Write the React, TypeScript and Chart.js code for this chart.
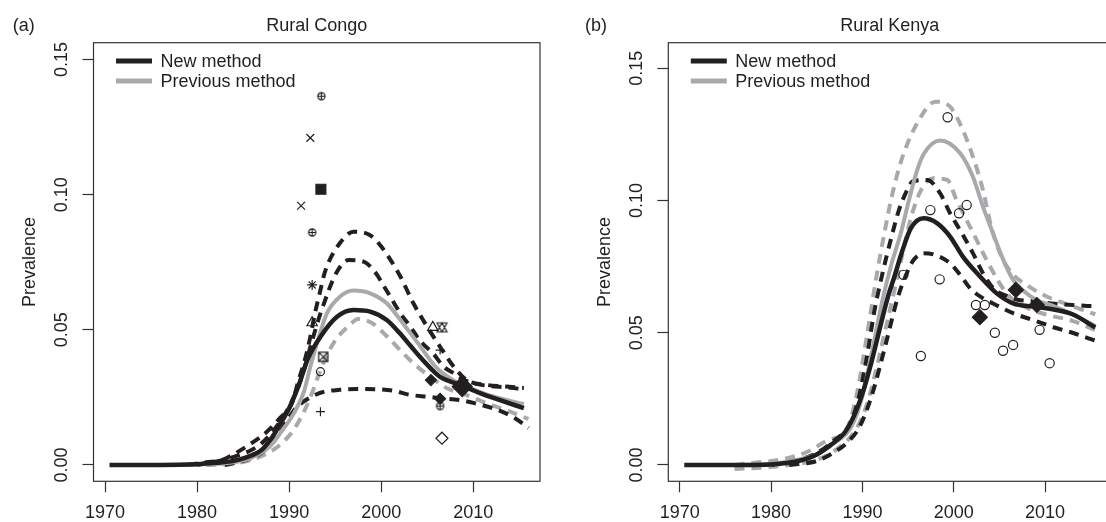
import React, { useEffect, useRef } from "react";
import { Chart, registerables } from "chart.js";

Chart.register(...registerables);

const FONT = "'Liberation Sans', Arial, Helvetica, sans-serif";
const INK = "#231f20";
const AXIS = "#333333";
const GRAY = "#a7a9ac";

// ---- axes ----
const xTicks = [1970, 1980, 1990, 2000, 2010];
const yTicks = [0, 0.05, 0.1, 0.15];

// ---- Rural Congo curves ----
const congoNewX = [1970.5, 1976, 1980, 1982, 1984, 1985.5, 1987, 1988, 1989, 1990, 1991, 1992, 1993.4, 1995.2, 1997, 1998.8, 2000.6, 2002, 2003.2, 2004.2, 2005.3, 2006.4, 2008.6, 2010.8, 2012.9, 2015.5];
const congoNewY = [0, 0, 0.0003, 0.0008, 0.0015, 0.003, 0.0055, 0.0095, 0.015, 0.021, 0.029, 0.039, 0.0474, 0.0548, 0.0573, 0.0567, 0.0536, 0.0488, 0.044, 0.04, 0.036, 0.0326, 0.0296, 0.0265, 0.024, 0.021];

const congoPrevX = [1970.5, 1980, 1984, 1986, 1988, 1989.4, 1990.5, 1991.6, 1992.3, 1993.2, 1994.1, 1995.5, 1997, 1998.8, 2000.6, 2002, 2004, 2006, 2008, 2010, 2012, 2015.5];
const congoPrevY = [0, 0.0002, 0.001, 0.0028, 0.0072, 0.0135, 0.019, 0.027, 0.0363, 0.047, 0.0561, 0.0622, 0.0645, 0.0635, 0.0598, 0.054, 0.045, 0.036, 0.031, 0.028, 0.0255, 0.0225];

const congoUpperX = [1979, 1981, 1982.6, 1984, 1985.8, 1987.5, 1988.9, 1990.3, 1991, 1991.8, 1992.3, 1992.8, 1993.4, 1993.9, 1995.5, 1997, 1998.8, 1999.9, 2000.8, 2002.1, 2003.5, 2005, 2006.4, 2007.9, 2009.3, 2011.5, 2013.6, 2015.5];
const congoUpperY = [0, 0.001, 0.0017, 0.004, 0.0078, 0.012, 0.017, 0.0228, 0.031, 0.04, 0.0474, 0.056, 0.0647, 0.0715, 0.082, 0.0863, 0.085, 0.0813, 0.077, 0.0696, 0.0598, 0.0511, 0.0437, 0.0363, 0.0314, 0.0296, 0.029, 0.0285];

const congoMidX = [1980, 1984, 1987, 1989, 1990.5, 1991.5, 1992.5, 1993.5, 1995.2, 1996.5, 1998.1, 1999.3, 2000.5, 2002.1, 2003.2, 2004.2, 2005.7, 2006.8, 2007.9, 2009.3, 2011.5, 2013.6, 2015.5];
const congoMidY = [0, 0.003, 0.008, 0.016, 0.025, 0.034, 0.046, 0.057, 0.0715, 0.0758, 0.0752, 0.0715, 0.065, 0.056, 0.051, 0.046, 0.041, 0.0363, 0.0339, 0.031, 0.0293, 0.0287, 0.028];

const congoLowX = [1983, 1985, 1987, 1988.5, 1989.7, 1990.6, 1991.6, 1993.5, 1995.5, 1997.4, 1999.5, 2001.3, 2003, 2005.2, 2006.4, 2008.6, 2010.2, 2012.2, 2014.4, 2016];
const congoLowY = [0, 0.0015, 0.0045, 0.0095, 0.016, 0.0205, 0.0235, 0.0268, 0.0278, 0.0281, 0.028, 0.0275, 0.026, 0.0252, 0.0247, 0.024, 0.0228, 0.0209, 0.0176, 0.0137];

const congoPrevLowX = [1981, 1984, 1986, 1988, 1989.3, 1990.5, 1991.5, 1992.3, 1993.7, 1995, 1996.5, 1997.5, 1999, 2000.5, 2002.4, 2003.5, 2005.3, 2007.1, 2009.3, 2011.5, 2014, 2016];
const congoPrevLowY = [0, 0.0005, 0.002, 0.005, 0.0083, 0.013, 0.019, 0.025, 0.0376, 0.046, 0.0515, 0.054, 0.0525, 0.048, 0.0413, 0.0376, 0.0327, 0.0285, 0.0258, 0.0228, 0.0197, 0.017];

// ---- Rural Congo survey points ----
const congoCirclePlusX = [1993.5, 1992.5, 2006.4];
const congoCirclePlusY = [0.1364, 0.086, 0.0218];
const congoTimesX = [1992.3, 1991.3];
const congoTimesY = [0.121, 0.0959];
const congoSquareX = [1993.45];
const congoSquareY = [0.102];
const congoAsteriskX = [1992.5];
const congoAsteriskY = [0.0666];
const congoTriangleX = [1992.5, 2005.6];
const congoTriangleY = [0.0526, 0.0509];
const congoTriDownX = [2006.6];
const congoTriDownY = [0.0509];
const congoSquareXX = [1993.7];
const congoSquareXY = [0.04];
const congoCircleX = [1993.4];
const congoCircleY = [0.0345];
const congoPlusX = [1993.4, 2006.4];
const congoPlusY = [0.0197, 0.0425];
const congoSmallDiamondX = [2005.4, 2006.4];
const congoSmallDiamondY = [0.0314, 0.0245];
const congoBigDiamondX = [2008.8];
const congoBigDiamondY = [0.029];
const congoOpenDiamondX = [2006.6];
const congoOpenDiamondY = [0.0099];

// ---- Rural Kenya curves ----
const kenyaNewX = [1970.5, 1978, 1981, 1983, 1985, 1986.5, 1988, 1989, 1990, 1991, 1992, 1992.8, 1993.5, 1994.4, 1995.3, 1996.7, 1998.2, 1999.6, 2001, 2002.9, 2004.7, 2006.5, 2008.7, 2010.1, 2013, 2015.5];
const kenyaNewY = [0, 0, 0.0005, 0.0015, 0.004, 0.0075, 0.012, 0.018, 0.027, 0.039, 0.053, 0.0637, 0.0712, 0.0813, 0.0895, 0.0933, 0.0914, 0.0864, 0.0788, 0.0712, 0.0649, 0.0611, 0.0599, 0.0593, 0.057, 0.052];

const kenyaPrevX = [1976, 1980, 1983, 1985, 1987, 1988.8, 1990, 1991, 1992.2, 1993.1, 1994.2, 1995.1, 1996, 1996.7, 1998.5, 2000.7, 2002.1, 2003.2, 2004.3, 2005.5, 2006.5, 2007.6, 2009, 2011, 2013, 2015.5];
const kenyaPrevY = [0, 0.0005, 0.002, 0.004, 0.0085, 0.0145, 0.026, 0.042, 0.0624, 0.075, 0.0876, 0.1002, 0.1115, 0.1175, 0.1227, 0.1179, 0.109, 0.0977, 0.0876, 0.077, 0.07, 0.066, 0.0625, 0.06, 0.057, 0.0525];

const kenyaUpperX = [1980, 1983, 1985, 1987, 1988.5, 1989.5, 1990.5, 1991.3, 1992.2, 1993.1, 1994, 1994.9, 1995.5, 1997.1, 1998.5, 1999.6, 2000.9, 2002.1, 2003.2, 2004.5, 2005.8, 2007, 2008.7, 2011, 2013, 2015.5];
const kenyaUpperY = [0, 0.002, 0.0045, 0.0095, 0.0145, 0.024, 0.041, 0.058, 0.0725, 0.0851, 0.0964, 0.104, 0.1072, 0.1078, 0.1028, 0.0952, 0.0876, 0.0801, 0.0725, 0.0662, 0.064, 0.0625, 0.062, 0.061, 0.0605, 0.06];

const kenyaLowX = [1982, 1985, 1987, 1988.5, 1989.7, 1991, 1992.5, 1993.8, 1994.7, 1995.6, 1996.7, 1998, 1999.6, 2000.7, 2001.8, 2003, 2004.3, 2006.5, 2008.7, 2011, 2013, 2015.5];
const kenyaLowY = [0, 0.0015, 0.005, 0.009, 0.0145, 0.026, 0.045, 0.0625, 0.0712, 0.0775, 0.0801, 0.0794, 0.0763, 0.0719, 0.0668, 0.0635, 0.0611, 0.0574, 0.0548, 0.052, 0.05, 0.047];

const kenyaPrevUpperX = [1976, 1978, 1981, 1984, 1986, 1988.4, 1989.4, 1990.5, 1991.5, 1992.4, 1993.3, 1994.4, 1996.2, 1998, 1999.6, 2001, 2002.1, 2003.2, 2004.1, 2005.2, 2006.5, 2008, 2010, 2013, 2015.5];
const kenyaPrevUpperY = [0, 0.0008, 0.002, 0.005, 0.009, 0.0145, 0.027, 0.049, 0.0705, 0.0876, 0.1028, 0.1166, 0.1305, 0.1374, 0.1355, 0.1267, 0.1166, 0.104, 0.0901, 0.079, 0.072, 0.068, 0.064, 0.06, 0.057];

const kenyaPrevLowX = [1976, 1979, 1982, 1985, 1987, 1989.3, 1990.5, 1991.5, 1992.5, 1993.5, 1994.4, 1995.4, 1996.5, 1997.8, 1999.3, 2000.3, 2001.4, 2002.5, 2003.6, 2004.8, 2006, 2008, 2010, 2013, 2015.5];
const kenyaPrevLowY = [-0.0015, -0.001, 0, 0.002, 0.0055, 0.0135, 0.023, 0.036, 0.051, 0.066, 0.08, 0.0945, 0.1045, 0.1084, 0.1078, 0.1002, 0.0927, 0.0851, 0.0775, 0.07, 0.064, 0.0595, 0.057, 0.0545, 0.051];

// ---- Rural Kenya survey points ----
const kenyaCircleX = [1999.33, 1997.44, 2000.58, 2001.42, 1994.49, 1998.46, 2002.43, 2003.4, 2004.5, 2006.5, 2005.4, 2009.4, 2010.5, 1996.4];
const kenyaCircleY = [0.1315, 0.0964, 0.0952, 0.0983, 0.0719, 0.0702, 0.0605, 0.0605, 0.05, 0.0454, 0.0432, 0.0511, 0.0385, 0.0412];
const kenyaDiamondX = [2002.86, 2006.8, 2009.1];
const kenyaDiamondY = [0.0559, 0.0662, 0.0605];

const legendLabels = ["New method", "Previous method"];

const X_MIN = 1968.75;
const X_MAX = 2017.25;

function pts(xs: number[], ys: number[]) {
  return xs.map((x, i) => ({ x, y: ys[i] }));
}

function makeMarker(size: number, draw: (ctx: CanvasRenderingContext2D, c: number) => void) {
  const cv = document.createElement("canvas");
  cv.width = size;
  cv.height = size;
  const ctx = cv.getContext("2d")!;
  ctx.strokeStyle = INK;
  ctx.fillStyle = INK;
  ctx.lineWidth = 1.2;
  draw(ctx, size / 2);
  return cv;
}

function curve(xs: number[], ys: number[], color: string, dashed: boolean, width: number) {
  return {
    type: "line" as const,
    data: pts(xs, ys),
    borderColor: color,
    borderWidth: width,
    borderDash: dashed ? [10, 7] : [],
    borderCapStyle: "butt" as const,
    pointRadius: 0,
    fill: false,
    showLine: true,
    cubicInterpolationMode: "monotone" as const,
  };
}

function marker(xs: number[], ys: number[], style: any, radius: number, filled: boolean, rotation = 0) {
  return {
    type: "scatter" as const,
    data: pts(xs, ys),
    showLine: false,
    pointStyle: style,
    pointRadius: radius,
    pointRotation: rotation,
    pointBorderWidth: 1.2,
    pointBorderColor: INK,
    pointBackgroundColor: filled ? INK : "rgba(0,0,0,0)",
  };
}

const decorPlugin = {
  id: "panelDecor",
  afterDraw(chart: any, _args: any, opts: any) {
    const { ctx, chartArea: a } = chart;
    ctx.save();
    ctx.strokeStyle = AXIS;
    ctx.lineWidth = 1.2;
    ctx.setLineDash([]);
    ctx.strokeRect(a.left, a.top, a.right - a.left, a.bottom - a.top);

    ctx.fillStyle = INK;
    ctx.font = `18px ${FONT}`;
    ctx.textBaseline = "alphabetic";
    ctx.textAlign = "left";
    ctx.fillText(opts.label, opts.labelX, 31);
    ctx.textAlign = "center";
    ctx.fillText(opts.title, (a.left + a.right) / 2, 31);

    ctx.save();
    ctx.translate(a.left - 63.5, (a.top + a.bottom) / 2);
    ctx.rotate(-Math.PI / 2);
    ctx.textAlign = "center";
    ctx.textBaseline = "middle";
    ctx.fillText("Prevalence", 0, 0);
    ctx.restore();

    const colors = [INK, GRAY];
    legendLabels.forEach((lab, i) => {
      const y = a.top + 18.3 + i * 20;
      ctx.strokeStyle = colors[i];
      ctx.lineWidth = 5;
      ctx.beginPath();
      ctx.moveTo(a.left + 22.5, y);
      ctx.lineTo(a.left + 58.5, y);
      ctx.stroke();
      ctx.fillStyle = INK;
      ctx.textAlign = "left";
      ctx.textBaseline = "alphabetic";
      ctx.fillText(lab, a.left + 67, y + 5.5);
    });
    ctx.restore();
  },
};

function makeOptions(yMin: number, yMax: number, yAxisWidth: number, padRight: number, deco: any) {
  return {
    responsive: false,
    animation: false as const,
    events: [],
    layout: { padding: { top: 42.7, right: padRight, bottom: 0, left: 0 } },
    plugins: {
      legend: { display: false },
      tooltip: { enabled: false },
      title: { display: false },
      panelDecor: deco,
    },
    scales: {
      x: {
        type: "linear" as const,
        min: X_MIN,
        max: X_MAX,
        afterBuildTicks: (s: any) => {
          s.ticks = xTicks.map((v) => ({ value: v }));
        },
        afterFit: (s: any) => {
          s.height = 40.7;
        },
        ticks: {
          color: INK,
          font: { family: FONT, size: 18 },
          padding: 10,
          maxRotation: 0,
          autoSkip: false,
          callback: (v: any) => String(v),
        },
        grid: { display: true, drawOnChartArea: false, drawTicks: true, tickLength: 11, tickWidth: 1.2, tickColor: AXIS, color: AXIS },
        border: { display: false },
      },
      y: {
        type: "linear" as const,
        min: yMin,
        max: yMax,
        afterBuildTicks: (s: any) => {
          s.ticks = yTicks.map((v) => ({ value: v }));
        },
        afterFit: (s: any) => {
          s.width = yAxisWidth;
        },
        ticks: {
          color: INK,
          font: { family: FONT, size: 18 },
          padding: 3,
          minRotation: 90,
          maxRotation: 90,
          crossAlign: "center" as const,
          autoSkip: false,
          callback: (v: any) => Number(v).toFixed(2),
        },
        grid: { display: true, drawOnChartArea: false, drawTicks: true, tickLength: 11, tickWidth: 1.2, tickColor: AXIS, color: AXIS },
        border: { display: false },
      },
    },
  };
}

function Panel(props: { left: number; width: number; build: () => any }) {
  const ref = useRef<HTMLCanvasElement>(null);
  useEffect(() => {
    const chart = new Chart(ref.current!, props.build());
    return () => chart.destroy();
  }, []);
  return (
    <canvas
      ref={ref}
      width={props.width}
      height={522}
      style={{ position: "absolute", left: props.left, top: 0, width: props.width, height: 522 }}
    />
  );
}

function buildCongo() {
  const circlePlus = makeMarker(11, (ctx, c) => {
    ctx.beginPath();
    ctx.arc(c, c, 3.6, 0, Math.PI * 2);
    ctx.moveTo(c - 3.6, c);
    ctx.lineTo(c + 3.6, c);
    ctx.moveTo(c, c - 3.6);
    ctx.lineTo(c, c + 3.6);
    ctx.stroke();
  });
  const squareX = makeMarker(13, (ctx, c) => {
    const h = 4.6;
    ctx.beginPath();
    ctx.rect(c - h, c - h, 2 * h, 2 * h);
    ctx.moveTo(c - h, c - h);
    ctx.lineTo(c + h, c + h);
    ctx.moveTo(c + h, c - h);
    ctx.lineTo(c - h, c + h);
    ctx.stroke();
  });
  const triDown = makeMarker(15, (ctx, c) => {
    ctx.beginPath();
    ctx.moveTo(c - 5, c - 4.5);
    ctx.lineTo(c + 5, c - 4.5);
    ctx.lineTo(c, c + 4.5);
    ctx.closePath();
    ctx.moveTo(c - 5, c + 4.5);
    ctx.lineTo(c + 5, c + 4.5);
    ctx.lineTo(c, c - 4.5);
    ctx.closePath();
    ctx.stroke();
  });
  return {
    type: "scatter" as const,
    data: {
      datasets: [
        marker(congoBigDiamondX, congoBigDiamondY, "rectRot", 10, true),
        marker(congoSmallDiamondX, congoSmallDiamondY, "rectRot", 5.5, true),
        marker(congoOpenDiamondX, congoOpenDiamondY, "rectRot", 6, false),
        marker(congoCirclePlusX, congoCirclePlusY, circlePlus, 4, false),
        marker(congoTimesX, congoTimesY, "crossRot", 5.5, false),
        marker(congoSquareX, congoSquareY, "rect", 7, true),
        marker(congoAsteriskX, congoAsteriskY, "star", 5, false),
        marker(congoTriangleX, congoTriangleY, "triangle", 6, false),
        marker(congoTriDownX, congoTriDownY, triDown, 5, false),
        marker(congoSquareXX, congoSquareXY, squareX, 5, false),
        marker(congoCircleX, congoCircleY, "circle", 4, false),
        marker(congoPlusX, congoPlusY, "cross", 4.5, false),
        curve(congoNewX, congoNewY, INK, false, 4.5),
        curve(congoPrevX, congoPrevY, GRAY, false, 4),
        curve(congoUpperX, congoUpperY, INK, true, 4),
        curve(congoMidX, congoMidY, INK, true, 4),
        curve(congoLowX, congoLowY, INK, true, 4),
        curve(congoPrevLowX, congoPrevLowY, GRAY, true, 4),
      ],
    },
    options: makeOptions(-0.00604, 0.1562, 93.5, 20, { label: "(a)", labelX: 12.7, title: "Rural Congo" }),
    plugins: [decorPlugin],
  };
}

function buildKenya() {
  return {
    type: "scatter" as const,
    data: {
      datasets: [
        marker(kenyaDiamondX, kenyaDiamondY, "rectRot", 7.5, true),
        marker(kenyaCircleX, kenyaCircleY, "circle", 4.6, false),
        curve(kenyaNewX, kenyaNewY, INK, false, 4.5),
        curve(kenyaPrevX, kenyaPrevY, GRAY, false, 4),
        curve(kenyaUpperX, kenyaUpperY, INK, true, 4),
        curve(kenyaLowX, kenyaLowY, INK, true, 4),
        curve(kenyaPrevUpperX, kenyaPrevUpperY, GRAY, true, 4),
        curve(kenyaPrevLowX, kenyaPrevLowY, GRAY, true, 4),
      ],
    },
    options: makeOptions(-0.00617, 0.1597, 108.3, 5.2, { label: "(b)", labelX: 25, title: "Rural Kenya" }),
    plugins: [decorPlugin],
  };
}

export default function App() {
  return (
    <div
      style={{
        position: "absolute",
        left: 0,
        top: 0,
        width: 1106,
        height: 522,
        overflow: "hidden",
        background: "#ffffff",
      }}
    >
      <Panel left={0} width={560} build={buildCongo} />
      <Panel left={560} width={560} build={buildKenya} />
    </div>
  );
}
